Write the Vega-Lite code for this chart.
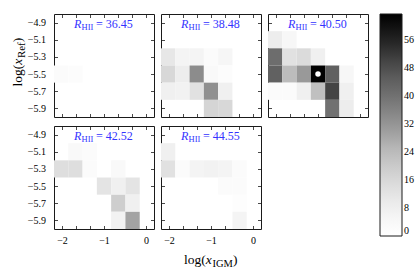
{
 "$schema": "https://vega.github.io/schema/vega-lite/v6.json",
 "padding": {"left": 10, "top": 13, "right": 2, "bottom": 5},
 "background": "white",
 "datasets": {
  "cells": [
   {"R":"36.45","xl":-2.19,"xh":-1.85,"yl":-5.6,"yh":-5.4,"v":2},
   {"R":"36.45","xl":-1.85,"xh":-1.51,"yl":-5.6,"yh":-5.4,"v":1.5},
   {"R":"38.48","xl":-2.19,"xh":-1.85,"yl":-5.4,"yh":-5.2,"v":11},
   {"R":"38.48","xl":-1.85,"xh":-1.51,"yl":-5.4,"yh":-5.2,"v":6},
   {"R":"38.48","xl":-1.51,"xh":-1.17,"yl":-5.4,"yh":-5.2,"v":6},
   {"R":"38.48","xl":-1.17,"xh":-0.83,"yl":-5.4,"yh":-5.2,"v":2},
   {"R":"38.48","xl":-0.83,"xh":-0.49,"yl":-5.4,"yh":-5.2,"v":5},
   {"R":"38.48","xl":-2.19,"xh":-1.85,"yl":-5.6,"yh":-5.4,"v":16},
   {"R":"38.48","xl":-1.85,"xh":-1.51,"yl":-5.6,"yh":-5.4,"v":9},
   {"R":"38.48","xl":-1.51,"xh":-1.17,"yl":-5.6,"yh":-5.4,"v":34},
   {"R":"38.48","xl":-1.17,"xh":-0.83,"yl":-5.6,"yh":-5.4,"v":3},
   {"R":"38.48","xl":-0.83,"xh":-0.49,"yl":-5.6,"yh":-5.4,"v":1.5},
   {"R":"38.48","xl":-2.19,"xh":-1.85,"yl":-5.8,"yh":-5.6,"v":8},
   {"R":"38.48","xl":-1.85,"xh":-1.51,"yl":-5.8,"yh":-5.6,"v":7},
   {"R":"38.48","xl":-1.51,"xh":-1.17,"yl":-5.8,"yh":-5.6,"v":13},
   {"R":"38.48","xl":-1.17,"xh":-0.83,"yl":-5.8,"yh":-5.6,"v":33},
   {"R":"38.48","xl":-0.83,"xh":-0.49,"yl":-5.8,"yh":-5.6,"v":8},
   {"R":"38.48","xl":-1.17,"xh":-0.83,"yl":-6.0,"yh":-5.8,"v":17},
   {"R":"38.48","xl":-0.83,"xh":-0.49,"yl":-6.0,"yh":-5.8,"v":16},
   {"R":"40.50","xl":-2.19,"xh":-1.85,"yl":-5.2,"yh":-5.0,"v":9},
   {"R":"40.50","xl":-1.85,"xh":-1.51,"yl":-5.2,"yh":-5.0,"v":4},
   {"R":"40.50","xl":-2.19,"xh":-1.85,"yl":-5.4,"yh":-5.2,"v":41},
   {"R":"40.50","xl":-1.85,"xh":-1.51,"yl":-5.4,"yh":-5.2,"v":13},
   {"R":"40.50","xl":-1.51,"xh":-1.17,"yl":-5.4,"yh":-5.2,"v":15},
   {"R":"40.50","xl":-1.17,"xh":-0.83,"yl":-5.4,"yh":-5.2,"v":8},
   {"R":"40.50","xl":-2.19,"xh":-1.85,"yl":-5.6,"yh":-5.4,"v":44},
   {"R":"40.50","xl":-1.85,"xh":-1.51,"yl":-5.6,"yh":-5.4,"v":24},
   {"R":"40.50","xl":-1.51,"xh":-1.17,"yl":-5.6,"yh":-5.4,"v":31},
   {"R":"40.50","xl":-1.17,"xh":-0.83,"yl":-5.6,"yh":-5.4,"v":63},
   {"R":"40.50","xl":-0.83,"xh":-0.49,"yl":-5.6,"yh":-5.4,"v":44},
   {"R":"40.50","xl":-0.49,"xh":-0.15,"yl":-5.6,"yh":-5.4,"v":4},
   {"R":"40.50","xl":-2.19,"xh":-1.85,"yl":-5.8,"yh":-5.6,"v":2},
   {"R":"40.50","xl":-1.85,"xh":-1.51,"yl":-5.8,"yh":-5.6,"v":2},
   {"R":"40.50","xl":-1.51,"xh":-1.17,"yl":-5.8,"yh":-5.6,"v":8},
   {"R":"40.50","xl":-1.17,"xh":-0.83,"yl":-5.8,"yh":-5.6,"v":23},
   {"R":"40.50","xl":-0.83,"xh":-0.49,"yl":-5.8,"yh":-5.6,"v":50},
   {"R":"40.50","xl":-0.49,"xh":-0.15,"yl":-5.8,"yh":-5.6,"v":8},
   {"R":"40.50","xl":-0.83,"xh":-0.49,"yl":-6.0,"yh":-5.8,"v":40},
   {"R":"40.50","xl":-0.49,"xh":-0.15,"yl":-6.0,"yh":-5.8,"v":9},
   {"R":"42.52","xl":-1.85,"xh":-1.51,"yl":-5.2,"yh":-5.0,"v":3},
   {"R":"42.52","xl":-1.51,"xh":-1.17,"yl":-5.2,"yh":-5.0,"v":2},
   {"R":"42.52","xl":-2.19,"xh":-1.85,"yl":-5.4,"yh":-5.2,"v":14},
   {"R":"42.52","xl":-1.85,"xh":-1.51,"yl":-5.4,"yh":-5.2,"v":14},
   {"R":"42.52","xl":-1.51,"xh":-1.17,"yl":-5.4,"yh":-5.2,"v":2},
   {"R":"42.52","xl":-0.83,"xh":-0.49,"yl":-5.4,"yh":-5.2,"v":3},
   {"R":"42.52","xl":-1.17,"xh":-0.83,"yl":-5.6,"yh":-5.4,"v":12},
   {"R":"42.52","xl":-0.83,"xh":-0.49,"yl":-5.6,"yh":-5.4,"v":8},
   {"R":"42.52","xl":-0.49,"xh":-0.15,"yl":-5.6,"yh":-5.4,"v":12},
   {"R":"42.52","xl":-0.83,"xh":-0.49,"yl":-5.8,"yh":-5.6,"v":19},
   {"R":"42.52","xl":-0.49,"xh":-0.15,"yl":-5.8,"yh":-5.6,"v":8},
   {"R":"42.52","xl":-0.83,"xh":-0.49,"yl":-6.0,"yh":-5.8,"v":7},
   {"R":"42.52","xl":-0.49,"xh":-0.15,"yl":-6.0,"yh":-5.8,"v":29},
   {"R":"44.55","xl":-2.19,"xh":-1.85,"yl":-5.2,"yh":-5.0,"v":8},
   {"R":"44.55","xl":-2.19,"xh":-1.85,"yl":-5.4,"yh":-5.2,"v":13},
   {"R":"44.55","xl":-1.85,"xh":-1.51,"yl":-5.4,"yh":-5.2,"v":2},
   {"R":"44.55","xl":-1.51,"xh":-1.17,"yl":-5.4,"yh":-5.2,"v":6},
   {"R":"44.55","xl":-1.17,"xh":-0.83,"yl":-5.4,"yh":-5.2,"v":7},
   {"R":"44.55","xl":-0.83,"xh":-0.49,"yl":-5.4,"yh":-5.2,"v":6},
   {"R":"44.55","xl":-0.49,"xh":-0.15,"yl":-5.4,"yh":-5.2,"v":2},
   {"R":"44.55","xl":-0.83,"xh":-0.49,"yl":-5.6,"yh":-5.4,"v":2},
   {"R":"44.55","xl":-0.49,"xh":-0.15,"yl":-5.6,"yh":-5.4,"v":2},
   {"R":"44.55","xl":-0.49,"xh":-0.15,"yl":-5.8,"yh":-5.6,"v":1},
   {"R":"44.55","xl":-0.49,"xh":-0.15,"yl":-6.0,"yh":-5.8,"v":6}
  ],
  "panels": [
   {"R":"36.45","label":"= 36.45"},
   {"R":"38.48","label":"= 38.48"},
   {"R":"40.50","label":"= 40.50"},
   {"R":"42.52","label":"= 42.52"},
   {"R":"44.55","label":"= 44.55"}
  ],
  "marker": [{"R":"40.50","x":-1.0,"y":-5.5}]
 },
 "columns": 3,
 "spacing": {"row": 7, "column": 5},
 "align": "each",
 "concat": [
  {
   "width": 100, "height": 103,
   "layer": [
    {"data":{"name":"cells"},"transform":[{"filter":{"field":"R","equal":"36.45"}}],"mark":{"type":"rect"},
     "encoding":{
      "x":{"field":"xl","type":"quantitative","scale":{"domain":[-2.19,0.19],"nice":false,"zero":false},"axis":{"orient":"bottom","values":[-2,-1.6667,-1.3333,-1,-0.6667,-0.3333,0],"labels":false,"title":null}},
      "x2":{"field":"xh"},
      "y":{"field":"yl","type":"quantitative","scale":{"domain":[-6.0,-4.8],"nice":false,"zero":false},"axis":{"orient":"left","values":[-4.9,-5.1,-5.3,-5.5,-5.7,-5.9],"labelExpr":"replace(format(datum.value, '.1f'), '-', '−')","labelPadding":12,"title":null}},
      "y2":{"field":"yh"},
      "color":{"field":"v","type":"quantitative","scale":{"domain":[0,7.925,15.85,23.775,31.7,39.625,47.55,55.475,63.4],"range":["#ffffff","#f0f0f0","#d9d9d9","#bdbdbd","#969696","#737373","#525252","#252525","#000000"],"interpolate":"rgb"},"legend":{"title":null,"values":[0,8,16,24,32,40,48,56]}}}},
    {"data":{"name":"panels"},"transform":[{"filter":{"field":"R","equal":"36.45"}}],"mark":{"type":"text","text":"R","fontStyle":"italic","fontSize":12,"align":"left","baseline":"alphabetic","dx":-30,"dy":14,"color":"#3333ff"},
     "encoding":{"x":{"datum":-1,"type":"quantitative","axis":{"orient":"top","values":[-2,-1.6667,-1.3333,-1,-0.6667,-0.3333,0],"labels":false,"title":null}},"y":{"datum":-4.8,"type":"quantitative","axis":{"orient":"right","values":[-4.9,-5.1,-5.3,-5.5,-5.7,-5.9],"labels":false,"title":null}}}},
    {"data":{"name":"panels"},"transform":[{"filter":{"field":"R","equal":"36.45"}}],"mark":{"type":"text","text":"HII","fontSize":8.5,"align":"left","baseline":"alphabetic","dx":-22.5,"dy":16,"color":"#3333ff"},
     "encoding":{"x":{"datum":-1,"type":"quantitative","axis":null},"y":{"datum":-4.8,"type":"quantitative","axis":null}}},
    {"data":{"name":"panels"},"transform":[{"filter":{"field":"R","equal":"36.45"}}],"mark":{"type":"text","fontSize":12,"align":"left","baseline":"alphabetic","dx":-8,"dy":14,"color":"#3333ff"},
     "encoding":{"x":{"datum":-1,"type":"quantitative","axis":null},"y":{"datum":-4.8,"type":"quantitative","axis":null},"text":{"field":"label"}}},
    {"data":{"name":"panels"},"transform":[{"filter":{"field":"R","equal":"36.45"}}],"mark":{"type":"text","text":"log(","fontSize":13.5,"angle":270,"align":"left","baseline":"alphabetic","dx":-21,"dy":-32,"color":"black"},
     "encoding":{"x":{"datum":-2.19,"type":"quantitative","axis":null},"y":{"datum":-5.4,"type":"quantitative","axis":null}}},
    {"data":{"name":"panels"},"transform":[{"filter":{"field":"R","equal":"36.45"}}],"mark":{"type":"text","text":"x","fontStyle":"italic","fontSize":13.5,"angle":270,"align":"left","baseline":"alphabetic","dx":0.7,"dy":-32,"color":"black"},
     "encoding":{"x":{"datum":-2.19,"type":"quantitative","axis":null},"y":{"datum":-5.4,"type":"quantitative","axis":null}}},
    {"data":{"name":"panels"},"transform":[{"filter":{"field":"R","equal":"36.45"}}],"mark":{"type":"text","text":"Ref","fontSize":11,"angle":270,"align":"left","baseline":"alphabetic","dx":7.4,"dy":-29,"color":"black"},
     "encoding":{"x":{"datum":-2.19,"type":"quantitative","axis":null},"y":{"datum":-5.4,"type":"quantitative","axis":null}}},
    {"data":{"name":"panels"},"transform":[{"filter":{"field":"R","equal":"36.45"}}],"mark":{"type":"text","text":")","fontSize":13.5,"angle":270,"align":"left","baseline":"alphabetic","dx":23.3,"dy":-32,"color":"black"},
     "encoding":{"x":{"datum":-2.19,"type":"quantitative","axis":null},"y":{"datum":-5.4,"type":"quantitative","axis":null}}}
   ],
   "resolve":{"axis":{"x":"independent","y":"independent"}}
  },
  {
   "width": 100, "height": 103,
   "layer": [
    {"data":{"name":"cells"},"transform":[{"filter":{"field":"R","equal":"38.48"}}],"mark":{"type":"rect"},
     "encoding":{
      "x":{"field":"xl","type":"quantitative","scale":{"domain":[-2.19,0.19],"nice":false,"zero":false},"axis":{"orient":"bottom","values":[-2,-1.6667,-1.3333,-1,-0.6667,-0.3333,0],"labels":false,"title":null}},
      "x2":{"field":"xh"},
      "y":{"field":"yl","type":"quantitative","scale":{"domain":[-6.0,-4.8],"nice":false,"zero":false},"axis":{"orient":"left","values":[-4.9,-5.1,-5.3,-5.5,-5.7,-5.9],"labels":false,"title":null}},
      "y2":{"field":"yh"},
      "color":{"field":"v","type":"quantitative","scale":{"domain":[0,7.925,15.85,23.775,31.7,39.625,47.55,55.475,63.4],"range":["#ffffff","#f0f0f0","#d9d9d9","#bdbdbd","#969696","#737373","#525252","#252525","#000000"],"interpolate":"rgb"},"legend":{"title":null,"values":[0,8,16,24,32,40,48,56]}}}},
    {"data":{"name":"panels"},"transform":[{"filter":{"field":"R","equal":"38.48"}}],"mark":{"type":"text","text":"R","fontStyle":"italic","fontSize":12,"align":"left","baseline":"alphabetic","dx":-30,"dy":14,"color":"#3333ff"},
     "encoding":{"x":{"datum":-1,"type":"quantitative","axis":{"orient":"top","values":[-2,-1.6667,-1.3333,-1,-0.6667,-0.3333,0],"labels":false,"title":null}},"y":{"datum":-4.8,"type":"quantitative","axis":{"orient":"right","values":[-4.9,-5.1,-5.3,-5.5,-5.7,-5.9],"labels":false,"title":null}}}},
    {"data":{"name":"panels"},"transform":[{"filter":{"field":"R","equal":"38.48"}}],"mark":{"type":"text","text":"HII","fontSize":8.5,"align":"left","baseline":"alphabetic","dx":-22.5,"dy":16,"color":"#3333ff"},
     "encoding":{"x":{"datum":-1,"type":"quantitative","axis":null},"y":{"datum":-4.8,"type":"quantitative","axis":null}}},
    {"data":{"name":"panels"},"transform":[{"filter":{"field":"R","equal":"38.48"}}],"mark":{"type":"text","fontSize":12,"align":"left","baseline":"alphabetic","dx":-8,"dy":14,"color":"#3333ff"},
     "encoding":{"x":{"datum":-1,"type":"quantitative","axis":null},"y":{"datum":-4.8,"type":"quantitative","axis":null},"text":{"field":"label"}}}
   ],
   "resolve":{"axis":{"x":"independent","y":"independent"}}
  },
  {
   "width": 100, "height": 103,
   "layer": [
    {"data":{"name":"cells"},"transform":[{"filter":{"field":"R","equal":"40.50"}}],"mark":{"type":"rect"},
     "encoding":{
      "x":{"field":"xl","type":"quantitative","scale":{"domain":[-2.19,0.19],"nice":false,"zero":false},"axis":{"orient":"bottom","values":[-2,-1.6667,-1.3333,-1,-0.6667,-0.3333,0],"labels":false,"title":null}},
      "x2":{"field":"xh"},
      "y":{"field":"yl","type":"quantitative","scale":{"domain":[-6.0,-4.8],"nice":false,"zero":false},"axis":{"orient":"left","values":[-4.9,-5.1,-5.3,-5.5,-5.7,-5.9],"labels":false,"title":null}},
      "y2":{"field":"yh"},
      "color":{"field":"v","type":"quantitative","scale":{"domain":[0,7.925,15.85,23.775,31.7,39.625,47.55,55.475,63.4],"range":["#ffffff","#f0f0f0","#d9d9d9","#bdbdbd","#969696","#737373","#525252","#252525","#000000"],"interpolate":"rgb"},"legend":{"title":null,"values":[0,8,16,24,32,40,48,56]}}}},
    {"data":{"name":"marker"},"mark":{"type":"point","filled":true,"color":"white","size":30,"opacity":1},
     "encoding":{"x":{"field":"x","type":"quantitative","axis":null},"y":{"field":"y","type":"quantitative","axis":null}}},
    {"data":{"name":"panels"},"transform":[{"filter":{"field":"R","equal":"40.50"}}],"mark":{"type":"text","text":"R","fontStyle":"italic","fontSize":12,"align":"left","baseline":"alphabetic","dx":-30,"dy":14,"color":"#3333ff"},
     "encoding":{"x":{"datum":-1,"type":"quantitative","axis":{"orient":"top","values":[-2,-1.6667,-1.3333,-1,-0.6667,-0.3333,0],"labels":false,"title":null}},"y":{"datum":-4.8,"type":"quantitative","axis":{"orient":"right","values":[-4.9,-5.1,-5.3,-5.5,-5.7,-5.9],"labels":false,"title":null}}}},
    {"data":{"name":"panels"},"transform":[{"filter":{"field":"R","equal":"40.50"}}],"mark":{"type":"text","text":"HII","fontSize":8.5,"align":"left","baseline":"alphabetic","dx":-22.5,"dy":16,"color":"#3333ff"},
     "encoding":{"x":{"datum":-1,"type":"quantitative","axis":null},"y":{"datum":-4.8,"type":"quantitative","axis":null}}},
    {"data":{"name":"panels"},"transform":[{"filter":{"field":"R","equal":"40.50"}}],"mark":{"type":"text","fontSize":12,"align":"left","baseline":"alphabetic","dx":-8,"dy":14,"color":"#3333ff"},
     "encoding":{"x":{"datum":-1,"type":"quantitative","axis":null},"y":{"datum":-4.8,"type":"quantitative","axis":null},"text":{"field":"label"}}}
   ],
   "resolve":{"axis":{"x":"independent","y":"independent"}}
  },
  {
   "width": 100, "height": 103,
   "layer": [
    {"data":{"name":"cells"},"transform":[{"filter":{"field":"R","equal":"42.52"}}],"mark":{"type":"rect"},
     "encoding":{
      "x":{"field":"xl","type":"quantitative","scale":{"domain":[-2.19,0.19],"nice":false,"zero":false},"axis":{"orient":"bottom","values":[-2,-1.6667,-1.3333,-1,-0.6667,-0.3333,0],"labelExpr":"datum.value == 0 ? '0' : datum.value == -1 ? '−1' : datum.value == -2 ? '−2' : ''","labelPadding":9.5,"labelFlush":false,"title":null}},
      "x2":{"field":"xh"},
      "y":{"field":"yl","type":"quantitative","scale":{"domain":[-6.0,-4.8],"nice":false,"zero":false},"axis":{"orient":"left","values":[-4.9,-5.1,-5.3,-5.5,-5.7,-5.9],"labelExpr":"replace(format(datum.value, '.1f'), '-', '−')","labelPadding":12,"title":null}},
      "y2":{"field":"yh"},
      "color":{"field":"v","type":"quantitative","scale":{"domain":[0,7.925,15.85,23.775,31.7,39.625,47.55,55.475,63.4],"range":["#ffffff","#f0f0f0","#d9d9d9","#bdbdbd","#969696","#737373","#525252","#252525","#000000"],"interpolate":"rgb"},"legend":{"title":null,"values":[0,8,16,24,32,40,48,56]}}}},
    {"data":{"name":"panels"},"transform":[{"filter":{"field":"R","equal":"42.52"}}],"mark":{"type":"text","text":"R","fontStyle":"italic","fontSize":12,"align":"left","baseline":"alphabetic","dx":-30,"dy":14,"color":"#3333ff"},
     "encoding":{"x":{"datum":-1,"type":"quantitative","axis":{"orient":"top","values":[-2,-1.6667,-1.3333,-1,-0.6667,-0.3333,0],"labels":false,"title":null}},"y":{"datum":-4.8,"type":"quantitative","axis":{"orient":"right","values":[-4.9,-5.1,-5.3,-5.5,-5.7,-5.9],"labels":false,"title":null}}}},
    {"data":{"name":"panels"},"transform":[{"filter":{"field":"R","equal":"42.52"}}],"mark":{"type":"text","text":"HII","fontSize":8.5,"align":"left","baseline":"alphabetic","dx":-22.5,"dy":16,"color":"#3333ff"},
     "encoding":{"x":{"datum":-1,"type":"quantitative","axis":null},"y":{"datum":-4.8,"type":"quantitative","axis":null}}},
    {"data":{"name":"panels"},"transform":[{"filter":{"field":"R","equal":"42.52"}}],"mark":{"type":"text","fontSize":12,"align":"left","baseline":"alphabetic","dx":-8,"dy":14,"color":"#3333ff"},
     "encoding":{"x":{"datum":-1,"type":"quantitative","axis":null},"y":{"datum":-4.8,"type":"quantitative","axis":null},"text":{"field":"label"}}}
   ],
   "resolve":{"axis":{"x":"independent","y":"independent"}}
  },
  {
   "width": 100, "height": 103,
   "layer": [
    {"data":{"name":"cells"},"transform":[{"filter":{"field":"R","equal":"44.55"}}],"mark":{"type":"rect"},
     "encoding":{
      "x":{"field":"xl","type":"quantitative","scale":{"domain":[-2.19,0.19],"nice":false,"zero":false},"axis":{"orient":"bottom","values":[-2,-1.6667,-1.3333,-1,-0.6667,-0.3333,0],"labelExpr":"datum.value == 0 ? '0' : datum.value == -1 ? '−1' : datum.value == -2 ? '−2' : ''","labelPadding":9.5,"labelFlush":false,"title":null}},
      "x2":{"field":"xh"},
      "y":{"field":"yl","type":"quantitative","scale":{"domain":[-6.0,-4.8],"nice":false,"zero":false},"axis":{"orient":"left","values":[-4.9,-5.1,-5.3,-5.5,-5.7,-5.9],"labels":false,"title":null}},
      "y2":{"field":"yh"},
      "color":{"field":"v","type":"quantitative","scale":{"domain":[0,7.925,15.85,23.775,31.7,39.625,47.55,55.475,63.4],"range":["#ffffff","#f0f0f0","#d9d9d9","#bdbdbd","#969696","#737373","#525252","#252525","#000000"],"interpolate":"rgb"},"legend":{"title":null,"values":[0,8,16,24,32,40,48,56]}}}},
    {"data":{"name":"panels"},"transform":[{"filter":{"field":"R","equal":"44.55"}}],"mark":{"type":"text","text":"R","fontStyle":"italic","fontSize":12,"align":"left","baseline":"alphabetic","dx":-30,"dy":14,"color":"#3333ff"},
     "encoding":{"x":{"datum":-1,"type":"quantitative","axis":{"orient":"top","values":[-2,-1.6667,-1.3333,-1,-0.6667,-0.3333,0],"labels":false,"title":null}},"y":{"datum":-4.8,"type":"quantitative","axis":{"orient":"right","values":[-4.9,-5.1,-5.3,-5.5,-5.7,-5.9],"labels":false,"title":null}}}},
    {"data":{"name":"panels"},"transform":[{"filter":{"field":"R","equal":"44.55"}}],"mark":{"type":"text","text":"HII","fontSize":8.5,"align":"left","baseline":"alphabetic","dx":-22.5,"dy":16,"color":"#3333ff"},
     "encoding":{"x":{"datum":-1,"type":"quantitative","axis":null},"y":{"datum":-4.8,"type":"quantitative","axis":null}}},
    {"data":{"name":"panels"},"transform":[{"filter":{"field":"R","equal":"44.55"}}],"mark":{"type":"text","fontSize":12,"align":"left","baseline":"alphabetic","dx":-8,"dy":14,"color":"#3333ff"},
     "encoding":{"x":{"datum":-1,"type":"quantitative","axis":null},"y":{"datum":-4.8,"type":"quantitative","axis":null},"text":{"field":"label"}}},
    {"data":{"name":"panels"},"transform":[{"filter":{"field":"R","equal":"44.55"}}],"mark":{"type":"text","text":"log(","fontSize":13.5,"align":"left","baseline":"alphabetic","dx":-27,"dy":35,"color":"black"},
     "encoding":{"x":{"datum":-1,"type":"quantitative","axis":null},"y":{"datum":-6.0,"type":"quantitative","axis":null}}},
    {"data":{"name":"panels"},"transform":[{"filter":{"field":"R","equal":"44.55"}}],"mark":{"type":"text","text":"x","fontStyle":"italic","fontSize":13.5,"align":"left","baseline":"alphabetic","dx":-5.3,"dy":35,"color":"black"},
     "encoding":{"x":{"datum":-1,"type":"quantitative","axis":null},"y":{"datum":-6.0,"type":"quantitative","axis":null}}},
    {"data":{"name":"panels"},"transform":[{"filter":{"field":"R","equal":"44.55"}}],"mark":{"type":"text","text":"IGM","fontSize":10.5,"align":"left","baseline":"alphabetic","dx":1.4,"dy":38,"color":"black"},
     "encoding":{"x":{"datum":-1,"type":"quantitative","axis":null},"y":{"datum":-6.0,"type":"quantitative","axis":null}}},
    {"data":{"name":"panels"},"transform":[{"filter":{"field":"R","equal":"44.55"}}],"mark":{"type":"text","text":")","fontSize":13.5,"align":"left","baseline":"alphabetic","dx":22.1,"dy":35,"color":"black"},
     "encoding":{"x":{"datum":-1,"type":"quantitative","axis":null},"y":{"datum":-6.0,"type":"quantitative","axis":null}}}
   ],
   "resolve":{"axis":{"x":"independent","y":"independent"}}
  }
 ],
 "config": {
  "font": "Liberation Serif",
  "view": {"stroke": "#1a1a1a", "strokeWidth": 1},
  "axis": {"minExtent": 0, "domain": false, "grid": false, "ticks": true, "tickColor": "#1a1a1a", "tickSize": -3.5, "tickWidth": 0.8, "labelFont": "Liberation Serif", "labelFontSize": 10, "labelColor": "#000000"},
  "legend": {"orient": "right", "offset": 11, "padding": 0, "gradientLength": 222, "gradientThickness": 22, "gradientStrokeColor": "#1a1a1a", "gradientStrokeWidth": 1, "labelFont": "Liberation Serif", "labelFontSize": 10, "labelColor": "#000000", "labelOffset": 3}
 }
}
